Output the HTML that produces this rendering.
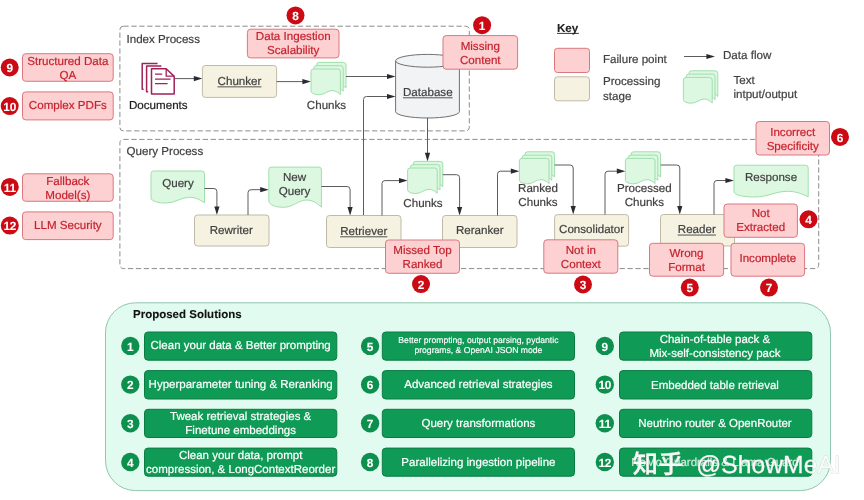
<!DOCTYPE html>
<html lang="en">
<head>
<meta charset="utf-8">
<title>RAG failure points</title>
<style>
html,body{margin:0;padding:0;background:#fff;}
body{width:864px;height:500px;overflow:hidden;}
svg{display:block;font-family:"Liberation Sans",sans-serif;}
svg text{text-rendering:geometricPrecision;}
svg{filter:blur(0.35px);}
</style>
</head>
<body>
<svg width="864" height="500" viewBox="0 0 864 500">
<rect width="864" height="500" fill="#ffffff"/>
<rect x="119.9" y="26.2" width="349.4" height="104.7" rx="3.5" fill="none" stroke="#8c8c8c" stroke-width="1" stroke-dasharray="5.3 2.63"/>
<rect x="119.9" y="139.4" width="698.8" height="129.2" rx="3.5" fill="none" stroke="#8c8c8c" stroke-width="1" stroke-dasharray="5.3 2.63"/>
<text x="126.5" y="42.6" font-size="11.6" fill="#404040" stroke="#404040" stroke-width="0.2" text-anchor="start" font-weight="normal" >Index Process</text>
<text x="126.5" y="155.3" font-size="11.6" fill="#404040" stroke="#404040" stroke-width="0.2" text-anchor="start" font-weight="normal" >Query Process</text>
<rect x="22.5" y="53.7" width="90.70" height="27.60" rx="3.2" fill="#fdd0d2" stroke="#db787e" stroke-width="1" />
<text x="67.85" y="64.6" font-size="11.6" fill="#c4232e" stroke="#c4232e" stroke-width="0.2" text-anchor="middle" font-weight="normal" >Structured Data</text>
<text x="67.85" y="78.6" font-size="11.6" fill="#c4232e" stroke="#c4232e" stroke-width="0.2" text-anchor="middle" font-weight="normal" >QA</text>
<rect x="22.5" y="91.9" width="90.70" height="28.00" rx="3.2" fill="#fdd0d2" stroke="#db787e" stroke-width="1" />
<text x="67.85" y="108.8" font-size="11.6" fill="#c4232e" stroke="#c4232e" stroke-width="0.2" text-anchor="middle" font-weight="normal" >Complex PDFs</text>
<rect x="22.5" y="173.8" width="90.70" height="27.50" rx="3.2" fill="#fdd0d2" stroke="#db787e" stroke-width="1" />
<text x="67.85" y="184.55" font-size="11.6" fill="#c4232e" stroke="#c4232e" stroke-width="0.2" text-anchor="middle" font-weight="normal" >Fallback</text>
<text x="67.85" y="198.55" font-size="11.6" fill="#c4232e" stroke="#c4232e" stroke-width="0.2" text-anchor="middle" font-weight="normal" >Model(s)</text>
<rect x="22.5" y="211.9" width="90.70" height="27.70" rx="3.2" fill="#fdd0d2" stroke="#db787e" stroke-width="1" />
<text x="67.85" y="229.35" font-size="11.6" fill="#c4232e" stroke="#c4232e" stroke-width="0.2" text-anchor="middle" font-weight="normal" >LLM Security</text>
<circle cx="9.7" cy="67.5" r="9" fill="#cc0a14"/>
<text x="9.7" y="72.3" font-size="11.8" fill="#fff" stroke="#fff" stroke-width="0.1" text-anchor="middle" font-weight="bold" >9</text>
<circle cx="9.7" cy="106.1" r="9" fill="#cc0a14"/>
<text x="9.7" y="110.89999999999999" font-size="11.8" fill="#fff" stroke="#fff" stroke-width="0.1" text-anchor="middle" font-weight="bold" letter-spacing="-0.2">10</text>
<circle cx="9.8" cy="186.9" r="9" fill="#cc0a14"/>
<text x="9.8" y="191.70000000000002" font-size="11.8" fill="#fff" stroke="#fff" stroke-width="0.1" text-anchor="middle" font-weight="bold" letter-spacing="-0.2">11</text>
<circle cx="9.8" cy="225.6" r="9" fill="#cc0a14"/>
<text x="9.8" y="230.4" font-size="11.8" fill="#fff" stroke="#fff" stroke-width="0.1" text-anchor="middle" font-weight="bold" letter-spacing="-0.2">12</text>
<g fill="none" stroke="#a0225a" stroke-width="1.5" stroke-linejoin="round">
<path d="M143.6,89.2 H142.2 V63.4 H157.6"/>
<path d="M148.2,91.7 H146.6 V66.1 H161.4"/>
<path d="M151.5,68.8 H166.2 L174.2,76.4 V94 H151.5 Z" fill="#fff"/>
<path d="M166.2,68.8 V76.2 H174.2" stroke-width="1.3"/>
<path d="M155,74.2 H162.2 M155,79.1 H170.6 M155,83.6 H167.6" stroke-width="1.3"/>
</g>
<text x="158.3" y="108.7" font-size="11.6" fill="#1a1a1a" stroke="#1a1a1a" stroke-width="0.2" text-anchor="middle" font-weight="normal" >Documents</text>
<path d="M175,78.6 L197.40,78.60" fill="none" stroke="#5c5c5c" stroke-width="1"/>
<polygon points="202.4,78.6 193.80,81.20 193.80,76.00" fill="#2a2a32"/>
<rect x="202.4" y="65.5" width="74.20" height="31.90" rx="3" fill="#f5f2e1" stroke="#bfbaa8" stroke-width="1" />
<text x="239.5" y="84.95" font-size="11.6" fill="#404040" stroke="#404040" stroke-width="0.2" text-anchor="middle" font-weight="normal" >Chunker</text>
<line x1="217.51" y1="86.85" x2="261.49" y2="86.85" stroke="#404040" stroke-width="0.9"/>
<path d="M276.6,81.6 L306.00,81.60" fill="none" stroke="#5c5c5c" stroke-width="1"/>
<polygon points="311,81.6 302.40,84.20 302.40,79.00" fill="#2a2a32"/>
<path d="M319.20,62.40 H343.40 Q346.00,62.40 346.00,65.00 V87.90 C343.65,85.79 341.30,83.90 337.77,83.90 C333.06,83.90 330.12,88.10 324.83,88.10 C320.72,88.10 316.60,86.84 316.60,84.32 V65.00 Q316.60,62.40 319.20,62.40 Z" fill="#ddf8e1" stroke="#a0deae" stroke-width="1"/>
<path d="M316.40,65.70 H340.60 Q343.20,65.70 343.20,68.30 V91.20 C340.85,89.09 338.50,87.20 334.97,87.20 C330.26,87.20 327.32,91.40 322.03,91.40 C317.92,91.40 313.80,90.14 313.80,87.62 V68.30 Q313.80,65.70 316.40,65.70 Z" fill="#ddf8e1" stroke="#a0deae" stroke-width="1"/>
<path d="M313.60,69.00 H337.80 Q340.40,69.00 340.40,71.60 V94.50 C338.05,92.39 335.70,90.50 332.17,90.50 C327.46,90.50 324.52,94.70 319.23,94.70 C315.12,94.70 311.00,93.44 311.00,90.92 V71.60 Q311.00,69.00 313.60,69.00 Z" fill="#ddf8e1" stroke="#a0deae" stroke-width="1"/>
<text x="326.5" y="108.5" font-size="11.6" fill="#404040" stroke="#404040" stroke-width="0.2" text-anchor="middle" font-weight="normal" >Chunks</text>
<path d="M346,76.5 L390.60,76.50" fill="none" stroke="#5c5c5c" stroke-width="1"/>
<polygon points="395.6,76.5 387.00,79.10 387.00,73.90" fill="#2a2a32"/>
<path d="M395.6,60.8 V111.6 A31.9,6.4 0 0 0 459.4,111.6 V60.8" fill="#f2f3f5" stroke="#707070" stroke-width="1"/>
<ellipse cx="427.5" cy="60.8" rx="31.9" ry="6.4" fill="#f2f3f5" stroke="#707070" stroke-width="1"/>
<text x="427.8" y="95.9" font-size="11.6" fill="#404040" stroke="#404040" stroke-width="0.2" text-anchor="middle" font-weight="normal" >Database</text>
<line x1="402.99" y1="97.80" x2="452.61" y2="97.80" stroke="#404040" stroke-width="0.9"/>
<path d="M363.5,215.5 L363.50,99.50 Q363.5,96.5 366.50,96.50 L390.60,96.50" fill="none" stroke="#5c5c5c" stroke-width="1"/>
<polygon points="395.6,96.5 387.00,99.10 387.00,93.90" fill="#2a2a32"/>
<path d="M427.5,117.8 L427.50,156.40" fill="none" stroke="#5c5c5c" stroke-width="1"/>
<polygon points="427.5,161.4 424.90,152.80 430.10,152.80" fill="#2a2a32"/>
<rect x="247.4" y="29.2" width="91.60" height="28.70" rx="3.2" fill="#fdd0d2" stroke="#db787e" stroke-width="1" />
<text x="293.2" y="40.45" font-size="11.6" fill="#c4232e" stroke="#c4232e" stroke-width="0.2" text-anchor="middle" font-weight="normal" >Data Ingestion</text>
<text x="293.2" y="54.45" font-size="11.6" fill="#c4232e" stroke="#c4232e" stroke-width="0.2" text-anchor="middle" font-weight="normal" >Scalability</text>
<circle cx="295.5" cy="15.4" r="9" fill="#cc0a14"/>
<text x="295.5" y="20.2" font-size="11.8" fill="#fff" stroke="#fff" stroke-width="0.1" text-anchor="middle" font-weight="bold" >8</text>
<rect x="443" y="35.6" width="74.60" height="33.60" rx="3.2" fill="#fdd0d2" stroke="#db787e" stroke-width="1" />
<text x="480.3" y="49.8" font-size="11.6" fill="#c4232e" stroke="#c4232e" stroke-width="0.2" text-anchor="middle" font-weight="normal" >Missing</text>
<text x="480.3" y="63.8" font-size="11.6" fill="#c4232e" stroke="#c4232e" stroke-width="0.2" text-anchor="middle" font-weight="normal" >Content</text>
<circle cx="482.1" cy="25.2" r="9" fill="#cc0a14"/>
<text x="482.1" y="30.0" font-size="11.8" fill="#fff" stroke="#fff" stroke-width="0.1" text-anchor="middle" font-weight="bold" >1</text>
<text x="557" y="31.5" font-size="11.6" fill="#222" stroke="#222" stroke-width="0.1" text-anchor="start" font-weight="bold" >Key</text>
<line x1="557.00" y1="33.40" x2="578.89" y2="33.40" stroke="#222" stroke-width="0.9"/>
<rect x="554.5" y="48.3" width="35.00" height="24.20" rx="3" fill="#fdd0d2" stroke="#db787e" stroke-width="1" />
<rect x="554.5" y="76.8" width="35.00" height="24.00" rx="3" fill="#f5f2e1" stroke="#bfbaa8" stroke-width="1" />
<text x="603" y="63.1" font-size="11.6" fill="#404040" stroke="#404040" stroke-width="0.2" text-anchor="start" font-weight="normal" >Failure point</text>
<text x="603" y="85.4" font-size="11.6" fill="#404040" stroke="#404040" stroke-width="0.2" text-anchor="start" font-weight="normal" >Processing</text>
<text x="603" y="99.5" font-size="11.6" fill="#404040" stroke="#404040" stroke-width="0.2" text-anchor="start" font-weight="normal" >stage</text>
<path d="M684,56.5 L710.00,56.50" fill="none" stroke="#5c5c5c" stroke-width="1"/>
<polygon points="715,56.5 706.40,59.10 706.40,53.90" fill="#2a2a32"/>
<text x="723" y="58.6" font-size="11.6" fill="#404040" stroke="#404040" stroke-width="0.2" text-anchor="start" font-weight="normal" >Data flow</text>
<path d="M691.60,70.80 H715.20 Q717.80,70.80 717.80,73.40 V96.40 C715.50,94.29 713.19,92.40 709.74,92.40 C705.13,92.40 702.25,96.60 697.06,96.60 C693.03,96.60 689.00,95.34 689.00,92.82 V73.40 Q689.00,70.80 691.60,70.80 Z" fill="#ddf8e1" stroke="#a0deae" stroke-width="1"/>
<path d="M688.80,74.10 H712.40 Q715.00,74.10 715.00,76.70 V99.70 C712.70,97.59 710.39,95.70 706.94,95.70 C702.33,95.70 699.45,99.90 694.26,99.90 C690.23,99.90 686.20,98.64 686.20,96.12 V76.70 Q686.20,74.10 688.80,74.10 Z" fill="#ddf8e1" stroke="#a0deae" stroke-width="1"/>
<path d="M686.00,77.40 H709.60 Q712.20,77.40 712.20,80.00 V103.00 C709.90,100.89 707.59,99.00 704.14,99.00 C699.53,99.00 696.65,103.20 691.46,103.20 C687.43,103.20 683.40,101.94 683.40,99.42 V80.00 Q683.40,77.40 686.00,77.40 Z" fill="#ddf8e1" stroke="#a0deae" stroke-width="1"/>
<text x="733.4" y="84.0" font-size="11.6" fill="#404040" stroke="#404040" stroke-width="0.2" text-anchor="start" font-weight="normal" >Text</text>
<text x="733.4" y="98.0" font-size="11.6" fill="#404040" stroke="#404040" stroke-width="0.2" text-anchor="start" font-weight="normal" >intput/output</text>
<path d="M153.60,171.00 H201.90 Q204.50,171.00 204.50,173.60 V202.80 C200.22,199.83 195.94,197.24 189.52,197.24 C180.96,197.24 175.61,203.00 165.98,203.00 C158.49,203.00 151.00,201.27 151.00,197.82 V173.60 Q151.00,171.00 153.60,171.00 Z" fill="#ddf8e1" stroke="#a0deae" stroke-width="1"/>
<text x="178" y="186.9" font-size="11.6" fill="#404040" stroke="#404040" stroke-width="0.2" text-anchor="middle" font-weight="normal" >Query</text>
<path d="M204.5,188.5 L213.90,188.50 Q216.9,188.5 216.90,191.50 L216.90,210.00" fill="none" stroke="#5c5c5c" stroke-width="1"/>
<polygon points="216.9,215 214.30,206.40 219.50,206.40" fill="#2a2a32"/>
<rect x="194.5" y="215" width="74.50" height="31.00" rx="3" fill="#f5f2e1" stroke="#bfbaa8" stroke-width="1" />
<text x="231.25" y="233.6" font-size="11.6" fill="#404040" stroke="#404040" stroke-width="0.2" text-anchor="middle" font-weight="normal" >Rewriter</text>
<path d="M248,215 L248.00,192.70 Q248,189.7 251.00,189.70 L263.80,189.70" fill="none" stroke="#5c5c5c" stroke-width="1"/>
<polygon points="268.8,189.7 260.20,192.30 260.20,187.10" fill="#2a2a32"/>
<path d="M271.40,167.10 H318.80 Q321.40,167.10 321.40,169.70 V207.10 C317.19,203.32 312.98,200.06 306.67,200.06 C298.26,200.06 293.00,207.30 283.53,207.30 C276.16,207.30 268.80,205.13 268.80,200.79 V169.70 Q268.80,167.10 271.40,167.10 Z" fill="#ddf8e1" stroke="#a0deae" stroke-width="1"/>
<text x="294.5" y="180.9" font-size="11.6" fill="#404040" stroke="#404040" stroke-width="0.2" text-anchor="middle" font-weight="normal" >New</text>
<text x="294.5" y="194.9" font-size="11.6" fill="#404040" stroke="#404040" stroke-width="0.2" text-anchor="middle" font-weight="normal" >Query</text>
<path d="M321.4,186.5 L347.10,186.50 Q350.1,186.5 350.10,189.50 L350.10,210.50" fill="none" stroke="#5c5c5c" stroke-width="1"/>
<polygon points="350.1,215.5 347.50,206.90 352.70,206.90" fill="#2a2a32"/>
<rect x="326.5" y="215.5" width="74.50" height="32.00" rx="3" fill="#f5f2e1" stroke="#bfbaa8" stroke-width="1" />
<text x="363.75" y="234.9" font-size="11.6" fill="#404040" stroke="#404040" stroke-width="0.2" text-anchor="middle" font-weight="normal" >Retriever</text>
<line x1="340.15" y1="236.80" x2="387.35" y2="236.80" stroke="#404040" stroke-width="0.9"/>
<path d="M382,215.5 L382.00,183.60 Q382,180.6 385.00,180.60 L402.60,180.60" fill="none" stroke="#5c5c5c" stroke-width="1"/>
<polygon points="407.6,180.6 399.00,183.20 399.00,178.00" fill="#2a2a32"/>
<path d="M415.80,161.40 H440.20 Q442.80,161.40 442.80,164.00 V186.70 C440.43,184.59 438.06,182.70 434.51,182.70 C429.78,182.70 426.82,186.90 421.49,186.90 C417.34,186.90 413.20,185.64 413.20,183.12 V164.00 Q413.20,161.40 415.80,161.40 Z" fill="#ddf8e1" stroke="#a0deae" stroke-width="1"/>
<path d="M413.00,164.70 H437.40 Q440.00,164.70 440.00,167.30 V190.00 C437.63,187.89 435.26,186.00 431.71,186.00 C426.98,186.00 424.02,190.20 418.69,190.20 C414.54,190.20 410.40,188.94 410.40,186.42 V167.30 Q410.40,164.70 413.00,164.70 Z" fill="#ddf8e1" stroke="#a0deae" stroke-width="1"/>
<path d="M410.20,168.00 H434.60 Q437.20,168.00 437.20,170.60 V193.30 C434.83,191.19 432.46,189.30 428.91,189.30 C424.18,189.30 421.22,193.50 415.89,193.50 C411.74,193.50 407.60,192.24 407.60,189.72 V170.60 Q407.60,168.00 410.20,168.00 Z" fill="#ddf8e1" stroke="#a0deae" stroke-width="1"/>
<text x="423" y="207" font-size="11.6" fill="#404040" stroke="#404040" stroke-width="0.2" text-anchor="middle" font-weight="normal" >Chunks</text>
<path d="M442.8,174.7 L456.60,174.70 Q459.6,174.7 459.60,177.70 L459.60,210.50" fill="none" stroke="#5c5c5c" stroke-width="1"/>
<polygon points="459.6,215.5 457.00,206.90 462.20,206.90" fill="#2a2a32"/>
<rect x="442.5" y="215.5" width="74.50" height="32.00" rx="3" fill="#f5f2e1" stroke="#bfbaa8" stroke-width="1" />
<text x="479.75" y="234.4" font-size="11.6" fill="#404040" stroke="#404040" stroke-width="0.2" text-anchor="middle" font-weight="normal" >Reranker</text>
<path d="M497.5,215.5 L497.50,174.20 Q497.5,171.2 500.50,171.20 L514.40,171.20" fill="none" stroke="#5c5c5c" stroke-width="1"/>
<polygon points="519.4,171.2 510.80,173.80 510.80,168.60" fill="#2a2a32"/>
<path d="M527.60,151.80 H552.00 Q554.60,151.80 554.60,154.40 V177.00 C552.23,174.89 549.86,173.00 546.31,173.00 C541.58,173.00 538.62,177.20 533.29,177.20 C529.14,177.20 525.00,175.94 525.00,173.42 V154.40 Q525.00,151.80 527.60,151.80 Z" fill="#ddf8e1" stroke="#a0deae" stroke-width="1"/>
<path d="M524.80,155.10 H549.20 Q551.80,155.10 551.80,157.70 V180.30 C549.43,178.19 547.06,176.30 543.51,176.30 C538.78,176.30 535.82,180.50 530.49,180.50 C526.34,180.50 522.20,179.24 522.20,176.72 V157.70 Q522.20,155.10 524.80,155.10 Z" fill="#ddf8e1" stroke="#a0deae" stroke-width="1"/>
<path d="M522.00,158.40 H546.40 Q549.00,158.40 549.00,161.00 V183.60 C546.63,181.49 544.26,179.60 540.71,179.60 C535.98,179.60 533.02,183.80 527.69,183.80 C523.54,183.80 519.40,182.54 519.40,180.02 V161.00 Q519.40,158.40 522.00,158.40 Z" fill="#ddf8e1" stroke="#a0deae" stroke-width="1"/>
<text x="538" y="192.3" font-size="11.6" fill="#404040" stroke="#404040" stroke-width="0.2" text-anchor="middle" font-weight="normal" >Ranked</text>
<text x="538" y="206.3" font-size="11.6" fill="#404040" stroke="#404040" stroke-width="0.2" text-anchor="middle" font-weight="normal" >Chunks</text>
<path d="M554.6,165 L570.20,165.00 Q573.2,165 573.20,168.00 L573.20,209.50" fill="none" stroke="#5c5c5c" stroke-width="1"/>
<polygon points="573.2,214.5 570.60,205.90 575.80,205.90" fill="#2a2a32"/>
<rect x="554.6" y="214.6" width="74.00" height="31.60" rx="3" fill="#f5f2e1" stroke="#bfbaa8" stroke-width="1" />
<text x="591.6" y="232.7" font-size="11.6" fill="#404040" stroke="#404040" stroke-width="0.2" text-anchor="middle" font-weight="normal" >Consolidator</text>
<path d="M605,214.5 L605.00,174.20 Q605,171.2 608.00,171.20 L620.40,171.20" fill="none" stroke="#5c5c5c" stroke-width="1"/>
<polygon points="625.4,171.2 616.80,173.80 616.80,168.60" fill="#2a2a32"/>
<path d="M633.60,151.80 H658.00 Q660.60,151.80 660.60,154.40 V177.00 C658.23,174.89 655.86,173.00 652.31,173.00 C647.58,173.00 644.62,177.20 639.29,177.20 C635.14,177.20 631.00,175.94 631.00,173.42 V154.40 Q631.00,151.80 633.60,151.80 Z" fill="#ddf8e1" stroke="#a0deae" stroke-width="1"/>
<path d="M630.80,155.10 H655.20 Q657.80,155.10 657.80,157.70 V180.30 C655.43,178.19 653.06,176.30 649.51,176.30 C644.78,176.30 641.82,180.50 636.49,180.50 C632.34,180.50 628.20,179.24 628.20,176.72 V157.70 Q628.20,155.10 630.80,155.10 Z" fill="#ddf8e1" stroke="#a0deae" stroke-width="1"/>
<path d="M628.00,158.40 H652.40 Q655.00,158.40 655.00,161.00 V183.60 C652.63,181.49 650.26,179.60 646.71,179.60 C641.98,179.60 639.02,183.80 633.69,183.80 C629.54,183.80 625.40,182.54 625.40,180.02 V161.00 Q625.40,158.40 628.00,158.40 Z" fill="#ddf8e1" stroke="#a0deae" stroke-width="1"/>
<text x="644.3" y="192.1" font-size="11.6" fill="#404040" stroke="#404040" stroke-width="0.2" text-anchor="middle" font-weight="normal" >Processed</text>
<text x="644.3" y="206.1" font-size="11.6" fill="#404040" stroke="#404040" stroke-width="0.2" text-anchor="middle" font-weight="normal" >Chunks</text>
<path d="M660.6,165 L676.80,165.00 Q679.8,165 679.80,168.00 L679.80,209.50" fill="none" stroke="#5c5c5c" stroke-width="1"/>
<polygon points="679.8,214.5 677.20,205.90 682.40,205.90" fill="#2a2a32"/>
<rect x="660.5" y="214.5" width="74.00" height="31.50" rx="3" fill="#f5f2e1" stroke="#bfbaa8" stroke-width="1" />
<text x="696.8" y="233.15" font-size="11.6" fill="#404040" stroke="#404040" stroke-width="0.2" text-anchor="middle" font-weight="normal" >Reader</text>
<line x1="677.69" y1="235.05" x2="715.91" y2="235.05" stroke="#404040" stroke-width="0.9"/>
<path d="M714,214.5 L714.00,183.50 Q714,180.5 717.00,180.50 L729.00,180.50" fill="none" stroke="#5c5c5c" stroke-width="1"/>
<polygon points="734,180.5 725.40,183.10 725.40,177.90" fill="#2a2a32"/>
<path d="M736.60,165.20 H805.60 Q808.20,165.20 808.20,167.80 V196.80 C802.26,193.85 796.33,191.28 787.42,191.28 C775.55,191.28 768.13,197.00 754.78,197.00 C744.39,197.00 734.00,195.28 734.00,191.85 V167.80 Q734.00,165.20 736.60,165.20 Z" fill="#ddf8e1" stroke="#a0deae" stroke-width="1"/>
<text x="771" y="180.9" font-size="11.6" fill="#404040" stroke="#404040" stroke-width="0.2" text-anchor="middle" font-weight="normal" >Response</text>
<rect x="756" y="121.5" width="73.50" height="33.50" rx="3.2" fill="#fdd0d2" stroke="#db787e" stroke-width="1" />
<text x="792.75" y="135.65" font-size="11.6" fill="#c4232e" stroke="#c4232e" stroke-width="0.2" text-anchor="middle" font-weight="normal" >Incorrect</text>
<text x="792.75" y="149.65" font-size="11.6" fill="#c4232e" stroke="#c4232e" stroke-width="0.2" text-anchor="middle" font-weight="normal" >Specificity</text>
<circle cx="840" cy="136.9" r="9" fill="#cc0a14"/>
<text x="840" y="141.70000000000002" font-size="11.8" fill="#fff" stroke="#fff" stroke-width="0.1" text-anchor="middle" font-weight="bold" >6</text>
<rect x="724" y="204" width="73.40" height="33.30" rx="3.2" fill="#fdd0d2" stroke="#db787e" stroke-width="1" />
<text x="760.7" y="217.25" font-size="11.6" fill="#c4232e" stroke="#c4232e" stroke-width="0.2" text-anchor="middle" font-weight="normal" >Not</text>
<text x="760.7" y="231.25" font-size="11.6" fill="#c4232e" stroke="#c4232e" stroke-width="0.2" text-anchor="middle" font-weight="normal" >Extracted</text>
<circle cx="808.5" cy="219.3" r="9" fill="#cc0a14"/>
<text x="808.5" y="224.10000000000002" font-size="11.8" fill="#fff" stroke="#fff" stroke-width="0.1" text-anchor="middle" font-weight="bold" >4</text>
<rect x="385.5" y="240" width="74.00" height="33.30" rx="3.2" fill="#fdd0d2" stroke="#db787e" stroke-width="1" />
<text x="422.5" y="253.75" font-size="11.6" fill="#c4232e" stroke="#c4232e" stroke-width="0.2" text-anchor="middle" font-weight="normal" >Missed Top</text>
<text x="422.5" y="267.75" font-size="11.6" fill="#c4232e" stroke="#c4232e" stroke-width="0.2" text-anchor="middle" font-weight="normal" >Ranked</text>
<circle cx="421" cy="284.1" r="9" fill="#cc0a14"/>
<text x="421" y="288.90000000000003" font-size="11.8" fill="#fff" stroke="#fff" stroke-width="0.1" text-anchor="middle" font-weight="bold" >2</text>
<rect x="543.8" y="239.8" width="74.00" height="33.40" rx="3.2" fill="#fdd0d2" stroke="#db787e" stroke-width="1" />
<text x="580.8" y="253.6" font-size="11.6" fill="#c4232e" stroke="#c4232e" stroke-width="0.2" text-anchor="middle" font-weight="normal" >Not in</text>
<text x="580.8" y="267.6" font-size="11.6" fill="#c4232e" stroke="#c4232e" stroke-width="0.2" text-anchor="middle" font-weight="normal" >Context</text>
<circle cx="583" cy="284.5" r="9" fill="#cc0a14"/>
<text x="583" y="289.3" font-size="11.8" fill="#fff" stroke="#fff" stroke-width="0.1" text-anchor="middle" font-weight="bold" >3</text>
<rect x="649.5" y="243.3" width="74.10" height="32.90" rx="3.2" fill="#fdd0d2" stroke="#db787e" stroke-width="1" />
<text x="686.55" y="257.35" font-size="11.6" fill="#c4232e" stroke="#c4232e" stroke-width="0.2" text-anchor="middle" font-weight="normal" >Wrong</text>
<text x="686.55" y="271.35" font-size="11.6" fill="#c4232e" stroke="#c4232e" stroke-width="0.2" text-anchor="middle" font-weight="normal" >Format</text>
<circle cx="689.8" cy="287.6" r="9" fill="#cc0a14"/>
<text x="689.8" y="292.40000000000003" font-size="11.8" fill="#fff" stroke="#fff" stroke-width="0.1" text-anchor="middle" font-weight="bold" >5</text>
<rect x="731" y="243.3" width="73.60" height="32.90" rx="3.2" fill="#fdd0d2" stroke="#db787e" stroke-width="1" />
<text x="767.8" y="261.75" font-size="11.6" fill="#c4232e" stroke="#c4232e" stroke-width="0.2" text-anchor="middle" font-weight="normal" >Incomplete</text>
<circle cx="769" cy="287.6" r="9" fill="#cc0a14"/>
<text x="769" y="292.40000000000003" font-size="11.8" fill="#fff" stroke="#fff" stroke-width="0.1" text-anchor="middle" font-weight="bold" >7</text>
<rect x="105.5" y="302.8" width="725" height="187.8" rx="30" fill="#e2fbf0" stroke="#8fc7ae" stroke-width="1"/>
<text x="133" y="318.4" font-size="11.5" fill="#111" stroke="#111" stroke-width="0.1" text-anchor="start" font-weight="bold" >Proposed Solutions</text>
<rect x="144.5" y="332.0" width="192.30" height="28.20" rx="3.5" fill="#0f9a55" stroke="#0a7c43" stroke-width="1" />
<text x="240.65" y="349.47" font-size="11.5" fill="#fff" stroke="#fff" stroke-width="0.2" text-anchor="middle" font-weight="normal" >Clean your data &amp; Better prompting</text>
<circle cx="130.3" cy="345.90000000000003" r="9.2" fill="#0d8f4e"/>
<text x="130.3" y="350.70000000000005" font-size="11.8" fill="#fff" stroke="#fff" stroke-width="0.1" text-anchor="middle" font-weight="bold" >1</text>
<rect x="144.5" y="370.6" width="192.30" height="28.40" rx="3.5" fill="#0f9a55" stroke="#0a7c43" stroke-width="1" />
<text x="240.65" y="388.17" font-size="11.5" fill="#fff" stroke="#fff" stroke-width="0.2" text-anchor="middle" font-weight="normal" >Hyperparameter tuning &amp; Reranking</text>
<circle cx="130.3" cy="384.6" r="9.2" fill="#0d8f4e"/>
<text x="130.3" y="389.40000000000003" font-size="11.8" fill="#fff" stroke="#fff" stroke-width="0.1" text-anchor="middle" font-weight="bold" >2</text>
<rect x="144.5" y="409.3" width="192.30" height="28.20" rx="3.5" fill="#0f9a55" stroke="#0a7c43" stroke-width="1" />
<text x="240.65" y="419.77" font-size="11.5" fill="#fff" stroke="#fff" stroke-width="0.2" text-anchor="middle" font-weight="normal" >Tweak retrieval strategies &amp;</text>
<text x="240.65" y="433.77" font-size="11.5" fill="#fff" stroke="#fff" stroke-width="0.2" text-anchor="middle" font-weight="normal" >Finetune embeddings</text>
<circle cx="130.3" cy="423.2" r="9.2" fill="#0d8f4e"/>
<text x="130.3" y="428.0" font-size="11.8" fill="#fff" stroke="#fff" stroke-width="0.1" text-anchor="middle" font-weight="bold" >3</text>
<rect x="144.5" y="448.1" width="192.30" height="28.10" rx="3.5" fill="#0f9a55" stroke="#0a7c43" stroke-width="1" />
<text x="240.65" y="458.52" font-size="11.5" fill="#fff" stroke="#fff" stroke-width="0.2" text-anchor="middle" font-weight="normal" >Clean your data, prompt</text>
<text x="240.65" y="472.52" font-size="11.5" fill="#fff" stroke="#fff" stroke-width="0.2" text-anchor="middle" font-weight="normal" >compression, &amp; LongContextReorder</text>
<circle cx="130.3" cy="461.95" r="9.2" fill="#0d8f4e"/>
<text x="130.3" y="466.75" font-size="11.8" fill="#fff" stroke="#fff" stroke-width="0.1" text-anchor="middle" font-weight="bold" >4</text>
<rect x="382.3" y="332.0" width="192.20" height="28.20" rx="3.5" fill="#0f9a55" stroke="#0a7c43" stroke-width="1" />
<text x="478.4" y="343.45" font-size="8.65" fill="#fff" stroke="#fff" stroke-width="0.15" text-anchor="middle" font-weight="normal" >Better prompting, output parsing, pydantic</text>
<text x="478.4" y="353.05" font-size="8.65" fill="#fff" stroke="#fff" stroke-width="0.15" text-anchor="middle" font-weight="normal" >programs, &amp; OpenAI JSON mode</text>
<circle cx="370.1" cy="345.90000000000003" r="9.2" fill="#0d8f4e"/>
<text x="370.1" y="350.70000000000005" font-size="11.8" fill="#fff" stroke="#fff" stroke-width="0.1" text-anchor="middle" font-weight="bold" >5</text>
<rect x="382.3" y="370.6" width="192.20" height="28.40" rx="3.5" fill="#0f9a55" stroke="#0a7c43" stroke-width="1" />
<text x="478.4" y="388.17" font-size="11.5" fill="#fff" stroke="#fff" stroke-width="0.2" text-anchor="middle" font-weight="normal" >Advanced retrieval strategies</text>
<circle cx="370.1" cy="384.6" r="9.2" fill="#0d8f4e"/>
<text x="370.1" y="389.40000000000003" font-size="11.8" fill="#fff" stroke="#fff" stroke-width="0.1" text-anchor="middle" font-weight="bold" >6</text>
<rect x="382.3" y="409.3" width="192.20" height="28.20" rx="3.5" fill="#0f9a55" stroke="#0a7c43" stroke-width="1" />
<text x="478.4" y="426.77" font-size="11.5" fill="#fff" stroke="#fff" stroke-width="0.2" text-anchor="middle" font-weight="normal" >Query transformations</text>
<circle cx="370.1" cy="423.2" r="9.2" fill="#0d8f4e"/>
<text x="370.1" y="428.0" font-size="11.8" fill="#fff" stroke="#fff" stroke-width="0.1" text-anchor="middle" font-weight="bold" >7</text>
<rect x="382.3" y="448.1" width="192.20" height="28.10" rx="3.5" fill="#0f9a55" stroke="#0a7c43" stroke-width="1" />
<text x="478.4" y="465.52" font-size="11.5" fill="#fff" stroke="#fff" stroke-width="0.2" text-anchor="middle" font-weight="normal" >Parallelizing ingestion pipeline</text>
<circle cx="370.1" cy="461.95" r="9.2" fill="#0d8f4e"/>
<text x="370.1" y="466.75" font-size="11.8" fill="#fff" stroke="#fff" stroke-width="0.1" text-anchor="middle" font-weight="bold" >8</text>
<rect x="619.5" y="332.0" width="192.30" height="28.20" rx="3.5" fill="#0f9a55" stroke="#0a7c43" stroke-width="1" />
<text x="714.9499999999999" y="342.97" font-size="11.5" fill="#fff" stroke="#fff" stroke-width="0.2" text-anchor="middle" font-weight="normal" >Chain-of-table pack &amp;</text>
<text x="714.9499999999999" y="356.97" font-size="11.5" fill="#fff" stroke="#fff" stroke-width="0.2" text-anchor="middle" font-weight="normal" >Mix-self-consistency pack</text>
<circle cx="604.8" cy="345.90000000000003" r="9.2" fill="#0d8f4e"/>
<text x="604.8" y="350.70000000000005" font-size="11.8" fill="#fff" stroke="#fff" stroke-width="0.1" text-anchor="middle" font-weight="bold" >9</text>
<rect x="619.5" y="370.6" width="192.30" height="28.40" rx="3.5" fill="#0f9a55" stroke="#0a7c43" stroke-width="1" />
<text x="714.9499999999999" y="388.67" font-size="11.5" fill="#fff" stroke="#fff" stroke-width="0.2" text-anchor="middle" font-weight="normal" >Embedded table retrieval</text>
<circle cx="604.8" cy="384.6" r="9.2" fill="#0d8f4e"/>
<text x="604.8" y="389.40000000000003" font-size="11.8" fill="#fff" stroke="#fff" stroke-width="0.1" text-anchor="middle" font-weight="bold" letter-spacing="-0.2">10</text>
<rect x="619.5" y="409.3" width="192.30" height="28.20" rx="3.5" fill="#0f9a55" stroke="#0a7c43" stroke-width="1" />
<text x="714.9499999999999" y="427.27" font-size="11.5" fill="#fff" stroke="#fff" stroke-width="0.2" text-anchor="middle" font-weight="normal" >Neutrino router &amp; OpenRouter</text>
<circle cx="604.8" cy="423.2" r="9.2" fill="#0d8f4e"/>
<text x="604.8" y="428.0" font-size="11.8" fill="#fff" stroke="#fff" stroke-width="0.1" text-anchor="middle" font-weight="bold" letter-spacing="-0.2">11</text>
<rect x="619.5" y="448.1" width="192.30" height="28.10" rx="3.5" fill="#0f9a55" stroke="#0a7c43" stroke-width="1" />
<text x="714.9499999999999" y="466.02" font-size="11.5" fill="#cfeadb" stroke="#cfeadb" stroke-width="0.2" text-anchor="middle" font-weight="normal" >NeMo Guardrails &amp; Llama Guard</text>
<circle cx="604.8" cy="461.95" r="9.2" fill="#0d8f4e"/>
<text x="604.8" y="466.75" font-size="11.8" fill="#fff" stroke="#fff" stroke-width="0.1" text-anchor="middle" font-weight="bold" letter-spacing="-0.2">12</text>
<g style="filter:drop-shadow(0.9px 0.9px 0 rgba(85,85,85,0.5))">
<text x="632.5" y="473.2" font-size="25.6" font-weight="500" fill="#ffffff" fill-opacity="0.95" stroke="#ffffff" stroke-opacity="0.9" stroke-width="0.3" font-family="'Liberation Sans', 'Noto Sans CJK SC', sans-serif">知乎</text>
<text x="696.3" y="472.6" font-size="24.7" fill="#ffffff" fill-opacity="0.95" stroke="#ffffff" stroke-opacity="0.9" stroke-width="0.3" font-family="'Liberation Sans', 'Noto Sans CJK SC', sans-serif">@ShowMeAI</text>
</g>
</svg>
</body>
</html>
